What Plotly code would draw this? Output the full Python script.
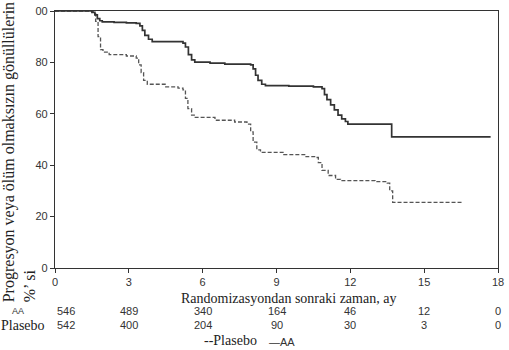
import plotly.graph_objects as go

# Kaplan-Meier curves (time in months, percent progression-free)
aa_t = [0, 1.5, 1.62, 1.72, 1.82, 1.92, 2.4, 2.9, 3.3, 3.45, 3.55, 3.65, 3.8, 3.95, 5.2, 5.3, 5.42, 5.55, 5.68,
        6.3, 6.9, 7.95, 8.05, 8.15, 8.25, 8.4, 8.55, 9.5, 10.5, 10.85, 10.95, 11.05, 11.2, 11.35, 11.5, 11.65,
        11.8, 11.9, 13.68, 17.7]
aa_v = [100, 99.5, 98.5, 97, 96.2, 95.8, 95.6, 95.4, 95.2, 94.2, 92.5, 90.5, 89, 88.1, 87.5, 86, 83, 81, 80.1,
        79.7, 79.3, 79.0, 77.5, 75, 73, 71.5, 71, 70.8, 70.5, 69.8, 67.5, 65.5, 63.5, 61.5, 59.5, 58,
        57, 56, 51, 51]

pl_t = [0, 1.55, 1.65, 1.75, 1.85, 1.95, 2.2, 2.9, 3.3, 3.4, 3.5, 3.6, 3.75, 4.5, 5.0, 5.2, 5.3, 5.4, 5.55, 5.7,
        6.5, 7.3, 7.8, 7.95, 8.05, 8.2, 8.35, 9.3, 10.2, 10.6, 10.7, 10.85, 11.1, 11.4, 11.6, 13.0, 13.5, 13.6,
        13.72, 16.56]
pl_v = [100, 99, 96, 90, 85, 84, 83, 82.5, 81.7, 79, 76, 73, 71.5, 70.5, 70, 69.3, 66, 62, 59.5, 58.6,
        57.5, 56.8, 56, 53, 49, 46, 45, 44.1, 43.3, 43, 41, 38, 36, 34.5, 34, 33.6, 33, 30,
        25.5, 25.5]

x_ticks = [0, 3, 6, 9, 12, 15, 18]
y_ticks = [0, 20, 40, 60, 80, 100]
y_ticktext = ["0", "20", "40", "60", "80", "00"]
risk_aa = ["546", "489", "340", "164", "46", "12", "0"]
risk_pl = ["542", "400", "204", "90", "30", "3", "0"]

SERIF = "Liberation Serif"
SANS = "Liberation Sans"

L, R, T, B = 54.5, 7, 5, 81.5
W, H = 509, 350
PW, PH = W - L - R, H - T - B

def px(xp):
    return (xp - L) / PW

def py(yp):
    return (H - B - yp) / PH

fig = go.Figure()
fig.add_trace(go.Scatter(x=pl_t, y=pl_v, mode="lines", line_shape="hv",
                         line=dict(color="#555555", width=1.3, dash="4px,2px"), name="Plasebo"))
fig.add_trace(go.Scatter(x=aa_t, y=aa_v, mode="lines", line_shape="hv",
                         line=dict(color="#333333", width=1.7), name="AA"))

fig.update_layout(
    width=W, height=H,
    margin=dict(l=L, r=R, t=T, b=B),
    paper_bgcolor="white", plot_bgcolor="white",
    showlegend=False,
    font=dict(family=SANS, size=11, color="#333333"),
)
fig.update_xaxes(range=[0, 18], tickvals=x_ticks, showgrid=False, zeroline=False,
                 showline=True, linecolor="#333333", linewidth=1.3, mirror=True,
                 ticks="outside", ticklen=4, tickcolor="#333333", ticklabeloverflow="allow",
                 tickfont=dict(family=SANS, size=11, color="#333333"))
fig.update_yaxes(range=[0, 100], tickvals=y_ticks, ticktext=y_ticktext, showgrid=False, zeroline=False,
                 showline=True, linecolor="#333333", linewidth=1.3, mirror=True,
                 ticks="outside", ticklen=4, tickcolor="#333333", ticklabeloverflow="allow",
                 tickfont=dict(family=SANS, size=11, color="#333333"))

ann = []
# y-axis title
ann.append(dict(text="Progresyon veya ölüm olmaksızın gönüllülerin<br>%’ si", textangle=-90,
                xref="paper", yref="paper", x=px(19), y=py(150), xanchor="center", yanchor="middle",
                align="left", showarrow=False, font=dict(family=SERIF, size=16, color="#222222")))
# x-axis title
ann.append(dict(text="Randomizasyondan sonraki zaman, ay", xref="paper", yref="paper",
                x=px(290), y=py(300), xanchor="center", yanchor="middle", showarrow=False,
                font=dict(family=SERIF, size=14, color="#222222")))
# at-risk labels
ann.append(dict(text="AA", xref="paper", yref="paper", x=px(17), y=py(313), xanchor="center",
                yanchor="middle", showarrow=False, font=dict(family=SANS, size=9, color="#333333")))
ann.append(dict(text="Plasebo", xref="paper", yref="paper", x=px(22), y=py(327), xanchor="center",
                yanchor="middle", showarrow=False, font=dict(family=SERIF, size=14, color="#222222")))
for i, t in enumerate(x_ticks):
    xa = "left" if i == 0 else "center"
    ann.append(dict(text=risk_aa[i], xref="x", yref="paper", x=t, y=py(313), xanchor=xa,
                    yanchor="middle", showarrow=False, font=dict(family=SANS, size=11, color="#333333")))
    ann.append(dict(text=risk_pl[i], xref="x", yref="paper", x=t, y=py(327), xanchor=xa,
                    yanchor="middle", showarrow=False, font=dict(family=SANS, size=11, color="#333333")))
# legend
ann.append(dict(text="--Plasebo", xref="paper", yref="paper", x=px(203), y=py(343), xanchor="left",
                yanchor="middle", showarrow=False, font=dict(family=SERIF, size=14, color="#222222")))
ann.append(dict(text="—AA", xref="paper", yref="paper", x=px(269), y=py(344), xanchor="left",
                yanchor="middle", showarrow=False, font=dict(family=SANS, size=11, color="#333333")))
fig.update_layout(annotations=ann)

fig.write_html("out.html")
